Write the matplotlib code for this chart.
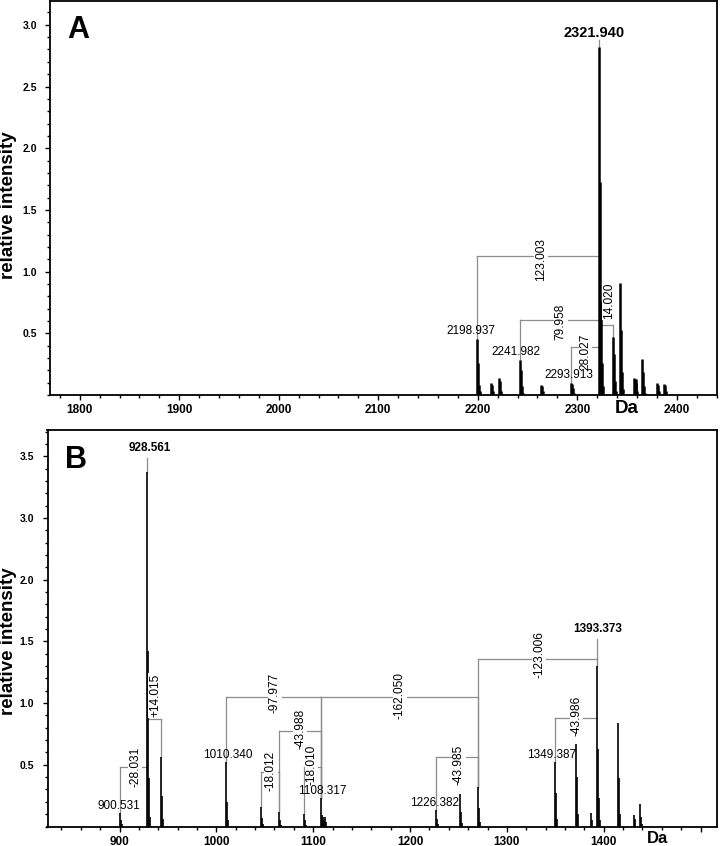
import matplotlib
matplotlib.use("Agg")
import matplotlib.pyplot as plt
from matplotlib.ticker import MultipleLocator, FixedLocator, FixedFormatter

plt.rcParams['font.family'] = ['Liberation Sans', 'DejaVu Sans']
plt.rcParams['font.weight'] = 'bold'

ISO_STEP = 1.0   # spacing of the isotope sticks, Da
BRACKET_GREY = '#8c8c8c'

# ---- panel A ----
A_MZ = [2198.937, 2213.0, 2221.0, 2241.982, 2263.6, 2293.913, 2321.940,
        2335.960, 2343.3, 2356.5, 2365.4, 2379.8, 2387.2]
A_ISO = [[0.45, 0.26, 0.08, 0.03],
         [0.10, 0.08, 0.03],
         [0.14, 0.11, 0.03, 0.01],
         [0.28, 0.20, 0.07, 0.02],
         [0.08, 0.07, 0.03, 0.01],
         [0.10, 0.09, 0.06, 0.02],
         [2.82, 1.73, 0.76, 0.26, 0.07],
         [0.47, 0.33, 0.11, 0.03],
         [0.91, 0.53, 0.19, 0.05],
         [0.14, 0.13, 0.13, 0.10, 0.03],
         [0.29, 0.19, 0.07, 0.02],
         [0.10, 0.08, 0.03],
         [0.09, 0.08, 0.03]]
A_LABELS = ["2198.937", "2241.982", "2293.913"]
A_LABEL_X = [2193.2, 2238.4, 2291.7]
A_LABEL_Y = [0.47, 0.30, 0.11]
A_TOP_LABEL = "2321.940"
A_TOP_X = 2316.8
A_TOP_Y = 2.88
A_BR_LEFT = [2198.937, 2241.982, 2293.913, 2321.940]
A_BR_RIGHT = [2321.940, 2321.940, 2321.940, 2335.960]
A_BR_Y = [1.13, 0.61, 0.39, 0.57]
A_BR_TEXT = ["123.003", "79.958", "28.027", "14.020"]
A_BR_TEXT_X = [2263.4, 2283.4, 2308.2, 2332.2]
A_BR_TEXT_Y = [1.10, 0.59, 0.35, 0.76]
A_XTICKS = [1800, 1900, 2000, 2100, 2200, 2300, 2400]

# ---- panel B ----
B_MZ = [900.531, 928.561, 942.576, 1010.340, 1046.317, 1064.329, 1090.307,
        1108.317, 1110.5, 1112.5, 1226.382, 1251.5, 1270.367, 1349.387,
        1371.4, 1386.8, 1393.373, 1415.0, 1431.2, 1437.1]
B_ISO = [[0.11, 0.05, 0.02],
         [2.875, 1.42, 0.39, 0.08],
         [0.56, 0.25, 0.06],
         [0.52, 0.20, 0.05],
         [0.16, 0.07, 0.02],
         [0.12, 0.05, 0.01],
         [0.10, 0.05, 0.01],
         [0.23, 0.09, 0.03],
         [0.08, 0.05],
         [0.08, 0.04],
         [0.13, 0.06, 0.02],
         [0.26, 0.12, 0.03],
         [0.32, 0.15, 0.04],
         [0.52, 0.27, 0.06],
         [0.67, 0.40, 0.10],
         [0.11, 0.05],
         [1.30, 0.63, 0.23, 0.05],
         [0.84, 0.39, 0.10],
         [0.09, 0.06],
         [0.18, 0.08, 0.02]]
B_LABELS = ["900.531", "1010.340", "1108.317", "1226.382", "1349.387"]
B_LABEL_X = [899.8, 1011.7, 1109.1, 1225.7, 1346.2]
B_LABEL_Y = [0.12, 0.53, 0.24, 0.14, 0.53]
B_TOP_LABELS = ["928.561", "1393.373"]
B_TOP_X = [930.8, 1393.3]
B_TOP_Y = [3.02, 1.55]
B_TOP_PEAK = [928.561, 1393.373]
B_BR_LEFT = [900.531, 928.561, 1010.340, 1108.317, 1064.329, 1046.317,
             1090.307, 1226.382, 1270.367, 1349.387]
B_BR_RIGHT = [928.561, 942.576, 1108.317, 1270.367, 1108.317, 1064.329,
              1108.317, 1270.367, 1393.373, 1393.373]
B_BR_Y = [0.485, 0.87, 1.047, 1.047, 0.77, 0.44, 0.48, 0.56, 1.36, 0.88]
B_BR_TEXT = ["-28.031", "+14.015", "-97.977", "-162.050", "-43.988",
             "-18.012", "-18.010", "-43.985", "-123.006", "-43.986"]
B_BR_TEXT_X = [916.0, 936.6, 1060.5, 1189.6, 1086.4, 1056.1, 1098.4,
               1250.5, 1333.2, 1372.0]
B_BR_TEXT_Y = [0.48, 1.06, 1.08, 1.06, 0.79, 0.45, 0.50, 0.50, 1.39, 0.90]
B_XTICKS = [900, 1000, 1100, 1200, 1300, 1400, 1500]
B_XTICKLABELS = ['900', '1000', '1100', '1200', '1300', '1400', '']
B_YTICKS = [0.5, 1.0, 1.5, 2.0, 2.5, 3.0]
B_YTICKLABELS = ['0.5', '1.0', '1.5', '2.0', '3.0', '3.5']


def peak_top(mz_list, iso, mz):
    i = min(range(len(mz_list)), key=lambda k: abs(mz_list[k] - mz))
    return max(iso[i])


def draw_spectrum(ax, mz_list, iso, lw):
    for mz, heights in zip(mz_list, iso):
        xs = [mz + k * ISO_STEP for k in range(len(heights))]
        ax.vlines(xs, 0, heights, color='black', lw=lw, zorder=3)


def draw_brackets(ax, mz_list, iso, left, right, ybar, texts, tx, ty):
    for l, r, y, t, x0, y0 in zip(left, right, ybar, texts, tx, ty):
        ax.plot([l, r], [y, y], color=BRACKET_GREY, lw=0.9, zorder=2)
        for m in (l, r):
            top = peak_top(mz_list, iso, m)
            if top < y:
                ax.plot([m, m], [top, y], color=BRACKET_GREY, lw=0.9, zorder=2)
        ax.text(x0, y0, t, rotation=90, ha='center', va='center',
                fontsize=8.6, fontweight='normal', zorder=4,
                bbox=dict(facecolor='white', edgecolor='none', pad=0.6))


def style_axes(ax, xlim, ylim, letter, ylab_x, ylab_y):
    ax.set_xlim(*xlim)
    ax.set_ylim(*ylim)
    ax.xaxis.set_minor_locator(MultipleLocator(20))
    ax.yaxis.set_minor_locator(MultipleLocator(0.1))
    ax.tick_params(which='both', direction='out', width=1.0)
    ax.tick_params(which='major', length=3.5)
    ax.tick_params(which='minor', length=2.0)
    ax.tick_params(axis='x', labelsize=8.5, pad=3)
    ax.tick_params(axis='y', labelsize=7.5, pad=6)
    for sp in ax.spines.values():
        sp.set_linewidth(1.3)
    ax.text(0.026, 0.905, letter, transform=ax.transAxes, fontsize=22,
            fontweight='bold', ha='left', va='baseline')
    ax.text(ylab_x, ylab_y, 'relative intensity', transform=ax.transAxes,
            rotation=90, fontsize=13.5, fontweight='bold',
            ha='center', va='center')


fig = plt.figure(figsize=(7.2, 8.46), dpi=100)
axA = fig.add_axes([50 / 720, 451 / 846, 667 / 720, 394 / 846])
axB = fig.add_axes([47.5 / 720, 19.5 / 846, 669.5 / 720, 396.5 / 846])

# panel A
draw_brackets(axA, A_MZ, A_ISO, A_BR_LEFT, A_BR_RIGHT, A_BR_Y,
              A_BR_TEXT, A_BR_TEXT_X, A_BR_TEXT_Y)
draw_spectrum(axA, A_MZ, A_ISO, 1.8)
for t, x0, y0 in zip(A_LABELS, A_LABEL_X, A_LABEL_Y):
    axA.text(x0, y0, t, ha='center', va='bottom', fontsize=8.5,
             fontweight='normal', zorder=5)
axA.plot([2321.940, 2321.940], [peak_top(A_MZ, A_ISO, 2321.940), A_TOP_Y],
         color=BRACKET_GREY, lw=0.9)
axA.text(A_TOP_X, A_TOP_Y, A_TOP_LABEL, ha='center', va='bottom',
         fontsize=10.5, fontweight='bold')
axA.set_xticks(A_XTICKS)
axA.set_yticks([0.5, 1.0, 1.5, 2.0, 2.5, 3.0])
style_axes(axA, (1770.1, 2440.4), (0, 3.193), 'A', -0.062, 0.482)
axA.text(0.865, -0.012, 'Da', transform=axA.transAxes, fontsize=13.5,
         fontweight='bold', ha='center', va='top')

# panel B
draw_brackets(axB, B_MZ, B_ISO, B_BR_LEFT, B_BR_RIGHT, B_BR_Y,
              B_BR_TEXT, B_BR_TEXT_X, B_BR_TEXT_Y)
draw_spectrum(axB, B_MZ, B_ISO, 1.2)
for t, x0, y0 in zip(B_LABELS, B_LABEL_X, B_LABEL_Y):
    axB.text(x0, y0, t, ha='center', va='bottom', fontsize=8.5,
             fontweight='normal', zorder=5)
for t, x0, y0, pk in zip(B_TOP_LABELS, B_TOP_X, B_TOP_Y, B_TOP_PEAK):
    axB.plot([pk, pk], [peak_top(B_MZ, B_ISO, pk), y0 - 0.03],
             color=BRACKET_GREY, lw=0.9)
    axB.text(x0, y0, t, ha='center', va='bottom', fontsize=8.5,
             fontweight='bold')
axB.xaxis.set_major_locator(FixedLocator(B_XTICKS))
axB.xaxis.set_major_formatter(FixedFormatter(B_XTICKLABELS))
axB.yaxis.set_major_locator(FixedLocator(B_YTICKS))
axB.yaxis.set_major_formatter(FixedFormatter(B_YTICKLABELS))
style_axes(axB, (825.6, 1517.0), (0, 3.213), 'B', -0.058, 0.467)
# the B axis label sits in the last few pixels of the figure
fig.text(658 / 720, 0.0, 'Da', fontsize=12, fontweight='bold',
         ha='center', va='bottom')

plt.savefig("out.png", dpi=100)
